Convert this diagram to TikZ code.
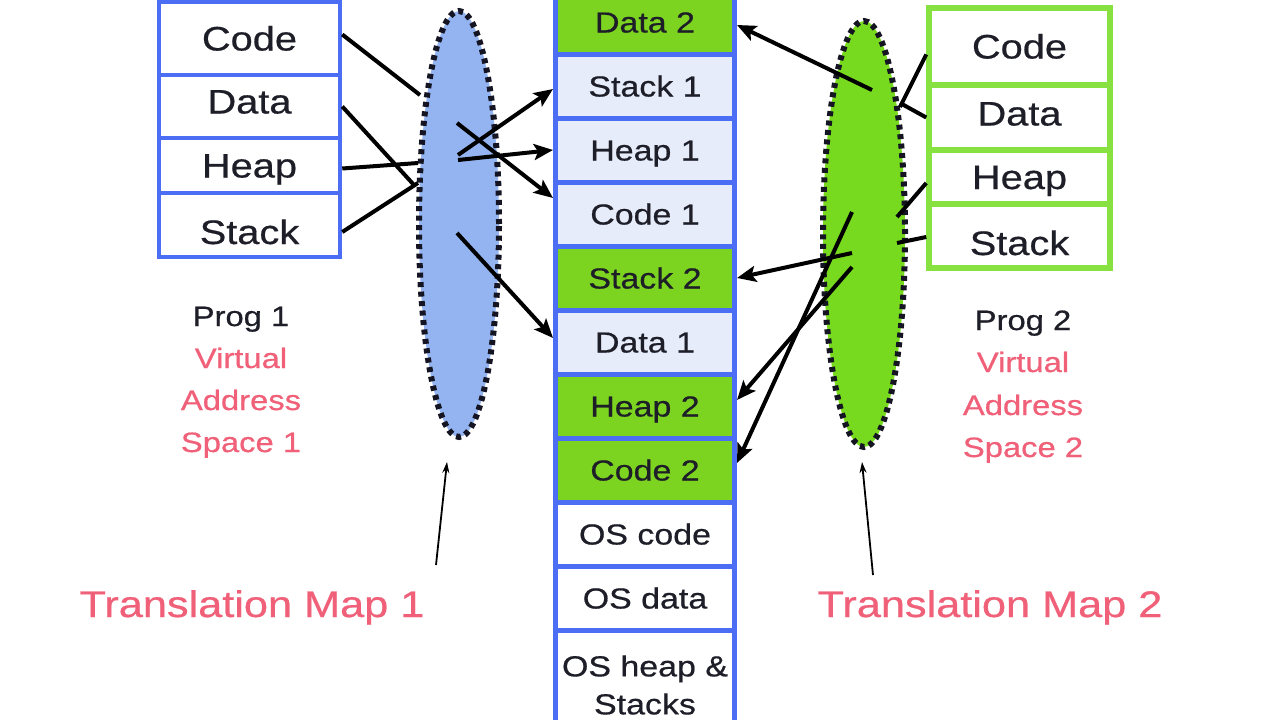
\documentclass[tikz,border=0pt]{standalone}
\usepackage{fontspec}
\setmainfont[FakeStretch=1.17,FakeBold=0.6]{Liberation Sans}
\usetikzlibrary{shapes.geometric,arrows.meta}
\definecolor{boxblue}{RGB}{76,110,245}
\definecolor{lightfill}{RGB}{230,236,250}
\definecolor{grfill}{RGB}{124,212,33}
\definecolor{boxgreen}{RGB}{135,226,65}
\definecolor{ellblue}{RGB}{147,180,240}
\definecolor{ellgreen}{RGB}{120,218,30}
\definecolor{pinktxt}{RGB}{240,96,120}
\definecolor{txtdark}{RGB}{30,30,40}
\definecolor{dotcol}{RGB}{20,20,35}
\begin{document}
\begin{tikzpicture}[x=1pt,y=-1pt,
  memrow/.style={draw=boxblue, line width=5pt, minimum width=179pt, minimum height=64pt, inner sep=0pt,
    text height=21pt, text depth=0pt, font=\fontsize{29}{38}\selectfont, text=txtdark},
  lightrow/.style={memrow, fill=lightfill},
  greenrow/.style={memrow, fill=grfill},
  whiterow/.style={memrow, fill=white},
  vbox/.style={draw=boxblue, line width=4.5pt, minimum width=181pt, inner sep=0pt, fill=white,
    text height=24pt, text depth=0pt, font=\fontsize{34}{40}\selectfont, text=txtdark},
  gbox/.style={vbox, draw=boxgreen, line width=5.5pt},
  mapfill/.style={ellipse, inner sep=0pt},
  mapdots/.style={line width=6pt, draw=dotcol, line cap=butt, dash pattern=on 5pt off 4.5pt},
  arr/.style={line width=4pt, -{Stealth[length=19pt,width=16pt,inset=4pt]}},
  ln/.style={line width=4pt},
  thinarr/.style={line width=1.8pt, -{Stealth[length=11pt,width=7pt]}},
  note/.style={font=\fontsize{28}{34}\selectfont, anchor=base, text=pinktxt},
  maptitle/.style={font=\fontsize{37}{44}\selectfont, text=pinktxt, anchor=base}]
\fill[white] (0,0) rectangle (1280,720);
\useasboundingbox (0,0) rectangle (1280,720);

% translation maps
\node[mapfill, fill=ellblue, minimum width=80pt, minimum height=426pt] (em1) at (459,224) {};
\node[mapfill, fill=ellgreen, minimum width=82pt, minimum height=426pt] (em2) at (864,234) {};
\draw[mapdots] (em1.center) ellipse [x radius=40pt, y radius=213pt];
\draw[mapdots] (em2.center) ellipse [x radius=41pt, y radius=213pt];

% physical memory column
\node[greenrow] (d2) at (645,22) {Data 2};
\node[lightrow] (s1) at (645,86) {Stack 1};
\node[lightrow] (h1) at (645,150) {Heap 1};
\node[lightrow] (c1) at (645,214) {Code 1};
\node[greenrow] (s2) at (645,278) {Stack 2};
\node[lightrow] (d1) at (645,342) {Data 1};
\node[greenrow] (h2) at (645,406) {Heap 2};
\node[greenrow] (c2) at (645,470) {Code 2};
\node[whiterow] (osc) at (645,534) {OS code};
\node[whiterow] (osd) at (645,598) {OS data};
\node[whiterow, minimum height=110pt, text height={}, text depth={}, align=center] (osh) at (645,685) {OS heap \&\\Stacks};

% program 1 virtual address space
\node[vbox, minimum height=73pt] (lcode) at (249.5,38.5) {Code};
\node[vbox, minimum height=63pt] (ldata) at (249.5,106.5) {\raisebox{5pt}{Data}};
\node[vbox, minimum height=55pt] (lheap) at (249.5,165.5) {Heap};
\node[vbox, minimum height=64pt] (lstack) at (249.5,225) {\raisebox{-7pt}{Stack}};

% program 2 virtual address space
\node[gbox, minimum height=77pt] (rcode) at (1019.5,46.5) {Code};
\node[gbox, minimum height=65pt] (rdata) at (1019.5,117.5) {\raisebox{4pt}{Data}};
\node[gbox, minimum height=54pt] (rheap) at (1019.5,177) {Heap};
\node[gbox, minimum height=64pt] (rstack) at (1019.5,236) {\raisebox{-7pt}{Stack}};

% labels
\node[note, text=txtdark] (p1a) at (241,326) {Prog 1};
\node[note] (p1b) at (241,368) {Virtual};
\node[note] (p1c) at (241,410) {Address};
\node[note] (p1d) at (241,452) {Space 1};
\node[note, text=txtdark] (p2a) at (1023,330) {Prog 2};
\node[note] (p2b) at (1023,372) {Virtual};
\node[note] (p2c) at (1023,415) {Address};
\node[note] (p2d) at (1023,457) {Space 2};
\node[maptitle] (tm1) at (252,617) {Translation Map 1};
\node[maptitle] (tm2) at (990,617) {Translation Map 2};

% points inside the maps
\coordinate (a1) at (420,95);
\coordinate (a2) at (414,185);
\coordinate (a3) at (418,163);
\coordinate (a4) at (418,183);
\coordinate (b1) at (458,155);
\coordinate (b2) at (458,160);
\coordinate (b3) at (457,123);
\coordinate (b4) at (457,233);
\coordinate (g1) at (872,90);
\coordinate (g2) at (900,107);
\coordinate (g3) at (900,103);
\coordinate (g4) at (897,217);
\coordinate (g5) at (897,243);
\coordinate (g6) at (852,253);
\coordinate (g7) at (852,212);
\coordinate (g8) at (852,267);
\coordinate (t1s) at (436,565);
\coordinate (t1e) at (447,462);
\coordinate (t2s) at (873,575);
\coordinate (t2e) at (862,462);

% program 1 connectors
\draw[ln] ([yshift=4pt]lcode.east) -- (a1);
\draw[ln] (ldata.east) -- (a2);
\draw[ln] ([yshift=-3pt]lheap.east) -- (a3);
\draw[ln] ([yshift=-7pt]lstack.east) -- (a4);
\draw[arr] (b1) -- ([yshift=-3pt]s1.west);
\draw[arr] (b2) -- (h1.west);
\draw[arr] (b3) -- ([yshift=16pt]c1.west);
\draw[arr] (b4) -- ([yshift=4pt]d1.west);

% program 2 connectors
\draw[arr] (g1) -- ([yshift=-3pt]d2.east);
\draw[ln] ([yshift=-8pt]rcode.west) -- (g2);
\draw[ln] (rdata.west) -- (g3);
\draw[ln] ([yshift=-6pt]rheap.west) -- (g4);
\draw[ln] ([yshift=-1pt]rstack.west) -- (g5);
\draw[arr] (g6) -- (s2.east);
\draw[arr] (g7) -- ([yshift=7pt]c2.east);
\draw[arr] (g8) -- ([yshift=6pt]h2.east);

% pointers to the maps
\draw[thinarr] (t1s) -- (t1e);
\draw[thinarr] (t2s) -- (t2e);
\end{tikzpicture}
\end{document}
